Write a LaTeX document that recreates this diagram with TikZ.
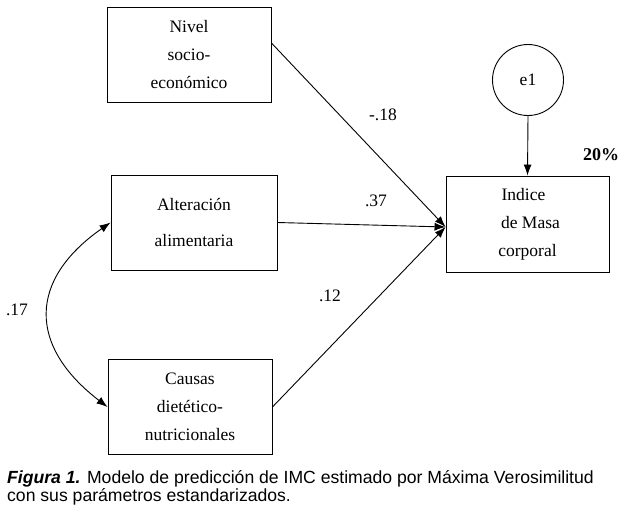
\documentclass[tikz,border=0pt]{standalone}
\usepackage{fontspec}
\setmainfont{Liberation Serif}
\newfontfamily\capfont{Liberation Sans}
\usetikzlibrary{arrows.meta,calc}
\begin{document}
\begin{tikzpicture}[x=1pt,y=-1pt,
  varbox/.style={draw,line width=0.9pt,rectangle,inner sep=0pt,minimum width=164pt,minimum height=95pt,align=center,font=\fontsize{17.5}{28}\selectfont},
  errnode/.style={draw,line width=0.9pt,circle,minimum size=71pt,inner sep=0pt,font=\fontsize{17.5}{20}\selectfont},
  coef/.style={inner sep=0pt,font=\fontsize{17.5}{20}\selectfont},
  path/.style={line width=0.9pt,-{Latex[length=11pt,width=8pt]}},
  covar/.style={line width=0.9pt,{Latex[length=11pt,width=8pt]}-{Latex[length=11pt,width=8pt]}}
]
\useasboundingbox (0,0) rectangle (624,509);
\fill[white] (0,0) rectangle (624,509);

\node[varbox] (nivel) at (189,54.5) {Nivel\\socio-\\económico};
\node[varbox,minimum width=166pt] (alter) at (194,222.5) {Alteración\\[8pt]alimentaria};
\node[varbox] (causas) at (190,407) {Causas\\dietético-\\nutricionales};
\node[varbox,minimum width=163pt,minimum height=96pt] (imc) at (527.5,224) {Indice\hspace*{8pt}\\\hspace*{6pt}de Masa\\corporal};
\node[errnode] (e1) at (528,80) {e1};

\coordinate (nivelout) at ($(nivel.north east)!0.38!(nivel.south east)$);
\coordinate (imcin) at ($(imc.west)+(0,3)$);

\draw[path] (nivelout) -- (imcin);
\draw[path] (alter.east) -- (imcin);
\draw[path] (causas.east) -- (imcin);
\draw[path] (e1.south) -- (imc.north);
\draw[covar] (alter.west) .. controls (28,280) and (28,346) .. (causas.west);

\node[coef] (c1) at (383,115) {-.18};
\node[coef] (c2) at (376,201) {.37};
\node[coef] (c3) at (330,296) {.12};
\node[coef] (c4) at (17,310) {.17};
\node[coef,anchor=west,font=\fontsize{18}{20}\selectfont\bfseries] (r2) at (583,155) {20\%};

\node[anchor=base west,inner sep=0pt,align=left,font=\capfont\fontsize{17.6}{18}\selectfont] (cap) at (7,501)
  {\textbf{\textit{Figura 1.}} Modelo de predicción de IMC estimado por Máxima Verosimilitud\\con sus parámetros estandarizados.};
\end{tikzpicture}
\end{document}
